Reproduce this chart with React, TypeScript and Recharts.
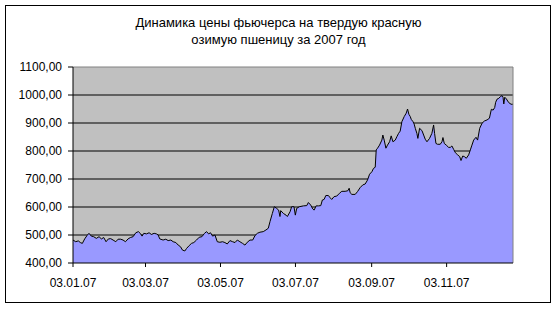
import React from "react";
import {
  AreaChart,
  Area,
  XAxis,
  YAxis,
  CartesianGrid,
  ReferenceLine,
} from "recharts";

const title1 = "Динамика цены фьючерса на твердую красную";
const title2 = "озимую пшеницу за 2007 год";

// days since 03.01.07
const days = [
  0, 2.2, 4.3, 6.0, 7.6, 9.5, 11.4, 13.0, 14.9, 16.8, 19.0, 21.2, 23.1, 25.0, 26.9, 28.8,
  30.7, 32.6, 34.8, 36.7, 38.8, 40.7, 42.7, 44.8, 46.7, 48.9, 51.1, 53.2, 55.1, 56.2, 57.6,
  59.8, 61.9, 63.8, 66.0, 67.9, 69.3, 70.6, 73.3, 75.5, 77.4, 79.6, 81.5, 83.7, 85.6, 87.5,
  89.1, 91.0, 92.4, 94.5, 96.4, 98.3, 100.5, 102.7, 104.9, 107.0, 108.7, 110.3, 111.9, 113.6,
  115.5, 117.4, 119.5, 121.7, 123.6, 125.5, 127.7, 129.9, 131.8, 133.7, 135.8, 138.0, 139.9,
  141.8, 144.0, 146.2, 148.1, 150.0, 152.1, 154.8, 157.0, 158.9, 160.3, 162.2, 163.8, 165.7,
  167.3, 168.4, 169.0, 171.2, 173.3, 174.4, 176.6, 177.9, 179.8, 180.9, 182.0, 184.2, 187.4,
  190.2, 191.5, 193.4, 195.1, 196.2, 197.8, 199.7, 201.6, 202.9, 204.3, 205.7, 207.8, 209.2,
  210.5, 212.4, 214.6, 216.8, 218.7, 221.4, 223.6, 224.7, 225.5, 226.9, 229.6, 231.5, 233.6,
  235.8, 237.7, 239.6, 241.3, 243.2, 244.5, 245.9, 246.7, 247.8, 249.4, 251.3, 252.1, 253.2,
  254.6, 255.9, 257.6, 258.9, 260.3, 262.2, 263.5, 264.9, 266.2, 267.6, 269.5, 271.1, 272.2,
  273.3, 274.4, 275.2, 276.6, 277.6, 278.5, 279.8, 280.6, 282.0, 283.9, 285.3, 286.6, 288.0,
  290.1, 292.0, 293.4, 294.2, 295.3, 296.6, 298.8, 300.2, 301.0, 302.1, 303.7, 305.6, 307.0,
  308.3, 309.7, 311.1, 313.0, 314.6, 315.7, 317.1, 318.4, 320.0, 321.9, 323.3, 324.6, 326.0,
  327.9, 329.2, 330.9, 332.8, 334.7, 336.9, 338.8, 340.4, 341.8, 343.1, 343.9, 345.0, 346.4,
  347.7, 349.1, 349.9, 350.5, 351.3, 352.6, 354.5, 356.4, 358.1,
];

const prices = [
  482, 476, 479, 473, 470, 486, 498, 506, 496, 494, 488, 494, 486, 491, 476, 486,
  487, 482, 476, 485, 485, 482, 476, 486, 491, 494, 508, 512, 504, 496, 506,
  504, 508, 502, 506, 504, 500, 486, 482, 485, 480, 482, 476, 473, 464, 458,
  446, 443, 452, 462, 470, 473, 482, 492, 494, 506, 512, 504, 508, 496,
  500, 476, 474, 476, 473, 468, 480, 476, 473, 482, 476, 470, 464,
  474, 482, 482, 498, 506, 510, 512, 518, 524, 548, 577, 601, 595,
  589, 566, 587, 577, 571, 566, 583, 601, 601, 571, 595, 601, 604,
  605, 616, 607, 593, 589, 604, 604, 605, 625, 627, 641, 641, 633,
  627, 637, 639, 649, 656, 656, 658, 667, 651, 645, 645, 655, 669,
  679, 682, 696, 717, 726, 738, 742, 804, 810, 821, 839, 857, 839,
  810, 821, 833, 854, 833, 839, 851, 863, 871, 905, 923, 935, 950,
  931, 923, 913, 905, 896, 881, 863, 845, 881, 873, 857, 842, 833,
  845, 863, 893, 863, 827, 824, 824, 833, 848, 827, 821, 813, 813,
  818, 806, 794, 786, 780, 766, 782, 780, 774, 786, 804, 821, 839,
  849, 839, 881, 899, 907, 911, 917, 949, 946, 955, 974, 985, 988,
  994, 998, 992, 968, 992, 986, 973, 967, 967,
];

const xTickDays = [0, 59, 120, 181, 243, 304];
const xTickLabels = ["03.01.07", "03.03.07", "03.05.07", "03.07.07", "03.09.07", "03.11.07"];
const yTicks = [400, 500, 600, 700, 800, 900, 1000, 1100];

const data = days.map((d, i) => ({ day: d, price: prices[i] }));

const font = "Arial, 'Liberation Sans', sans-serif";

export default function App() {
  return (
    <div
      style={{
        position: "absolute",
        left: 0,
        top: 0,
        width: 557,
        height: 311,
        background: "#fff",
        fontFamily: font,
      }}
    >
      <div
        style={{
          position: "absolute",
          left: 5,
          top: 5,
          width: 546,
          height: 298,
          border: "1px solid #000",
          boxSizing: "border-box",
        }}
      />
      <div
        style={{
          position: "absolute",
          left: 0,
          top: 14,
          width: 557,
          textAlign: "center",
          fontSize: 13,
          lineHeight: "17px",
          color: "#000",
        }}
      >
        <div>{title1}</div>
        <div>{title2}</div>
      </div>
      <div style={{ position: "absolute", left: 0, top: 0 }}>
        <AreaChart
          width={557}
          height={311}
          data={data}
          margin={{ top: 67, right: 44, bottom: 18, left: 0 }}
        >
          <CartesianGrid
            fill="#C0C0C0"
            stroke="#000"
            strokeOpacity={1}
            vertical={false}
            horizontalValues={[500, 600, 700, 800, 900, 1000]}
          />
          <XAxis
            dataKey="day"
            type="number"
            domain={[0, 358]}
            ticks={xTickDays}
            tickFormatter={(v: number) => xTickLabels[xTickDays.indexOf(v)] ?? ""}
            axisLine={{ stroke: "#000" }}
            tickLine={{ stroke: "#000" }}
            tickSize={4}
            tickMargin={11}
            height={30}
            tick={{ fill: "#000", fontSize: 12, fontFamily: font }}
            allowDataOverflow
          />
          <YAxis
            type="number"
            domain={[400, 1100]}
            ticks={yTicks}
            tickFormatter={(v: number) => v.toFixed(2).replace(".", ",")}
            axisLine={{ stroke: "#000" }}
            tickLine={{ stroke: "#000" }}
            tickSize={5}
            tickMargin={6}
            width={73}
            tick={{ fill: "#000", fontSize: 12, fontFamily: font }}
            allowDataOverflow
          />
          <ReferenceLine y={1100} stroke="#808080" />
          <ReferenceLine x={358} stroke="#808080" />
          <Area
            type="linear"
            dataKey="price"
            stroke="#000"
            strokeWidth={1}
            fill="#9999FF"
            fillOpacity={1}
            isAnimationActive={false}
            dot={false}
            activeDot={false}
            baseValue={400}
          />
        </AreaChart>
      </div>
    </div>
  );
}
